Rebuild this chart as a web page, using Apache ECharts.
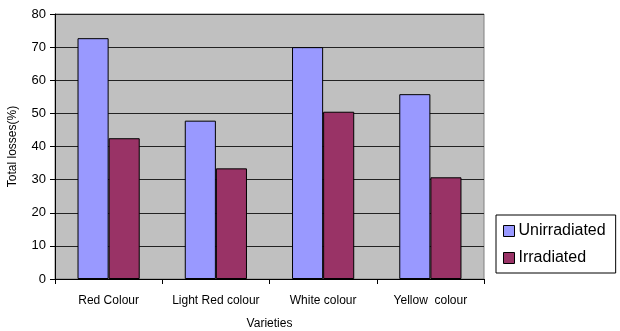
<!DOCTYPE html>
<html>
<head>
<meta charset="utf-8">
<script src="https://cdn.jsdelivr.net/npm/echarts@6/dist/echarts.min.js"></script>
<style>
  html, body { margin: 0; padding: 0; background: #fff; }
  #chart { width: 620px; height: 331px; }
</style>
</head>
<body>
<div id="chart"></div>
<script>
// data
var varieties = ['Red Colour', 'Light Red colour', 'White colour', 'Yellow  colour'];
var unirradiated = [72.7, 47.8, 70.0, 55.8];
var irradiated = [42.5, 33.4, 50.5, 30.7];
var yTicks = [0, 10, 20, 30, 40, 50, 60, 70, 80];

var chart = echarts.init(document.getElementById('chart'));
var font = 'Liberation Sans, Arial, sans-serif';

chart.setOption({
  animation: false,
  textStyle: { fontFamily: font },
  grid: {
    left: 55, right: 136, top: 14, bottom: 52,
    outerBoundsMode: 'none',
    containLabel: false,
    show: true, backgroundColor: '#c0c0c0', borderColor: '#808080', borderWidth: 1
  },
  legend: {
    orient: 'vertical',
    left: 496, top: 215,
    padding: [8, 10, 7, 7],
    itemGap: 11,
    itemWidth: 11, itemHeight: 11,
    backgroundColor: '#fff',
    borderColor: '#000', borderWidth: 1,
    icon: 'rect',
    itemStyle: { borderColor: '#000', borderWidth: 1 },
    textStyle: { fontSize: 16, color: '#000', fontFamily: font, padding: [0, 0, 0, -1] },
    data: ['Unirradiated', 'Irradiated']
  },
  xAxis: {
    type: 'category',
    data: varieties,
    name: 'Varieties',
    nameLocation: 'middle',
    nameGap: 39,
    nameTextStyle: { fontSize: 12, color: '#000' },
    axisLine: { lineStyle: { color: '#000' } },
    axisTick: { show: true, length: 5, lineStyle: { color: '#000' } },
    axisLabel: { interval: 0, fontSize: 12, color: '#000', margin: 16 }
  },
  yAxis: {
    type: 'value',
    min: yTicks[0], max: yTicks[yTicks.length - 1], interval: 10,
    name: 'Total losses(%)',
    nameLocation: 'middle',
    nameGap: 36,
    nameTextStyle: { fontSize: 12, color: '#000' },
    axisLine: { show: true, lineStyle: { color: '#000' } },
    axisTick: { show: true, length: 5, lineStyle: { color: '#000' } },
    axisLabel: { fontSize: 13, color: '#000', margin: 9 },
    splitLine: { lineStyle: { color: '#222', width: 1 } }
  },
  series: [
    {
      name: 'Unirradiated',
      type: 'bar',
      data: unirradiated,
      barGap: '0%',
      barCategoryGap: '42%',
      itemStyle: { color: '#9999ff', borderColor: '#000', borderWidth: 1 }
    },
    {
      name: 'Irradiated',
      type: 'bar',
      data: irradiated,
      itemStyle: { color: '#993366', borderColor: '#000', borderWidth: 1 }
    }
  ]
});
</script>
</body>
</html>
